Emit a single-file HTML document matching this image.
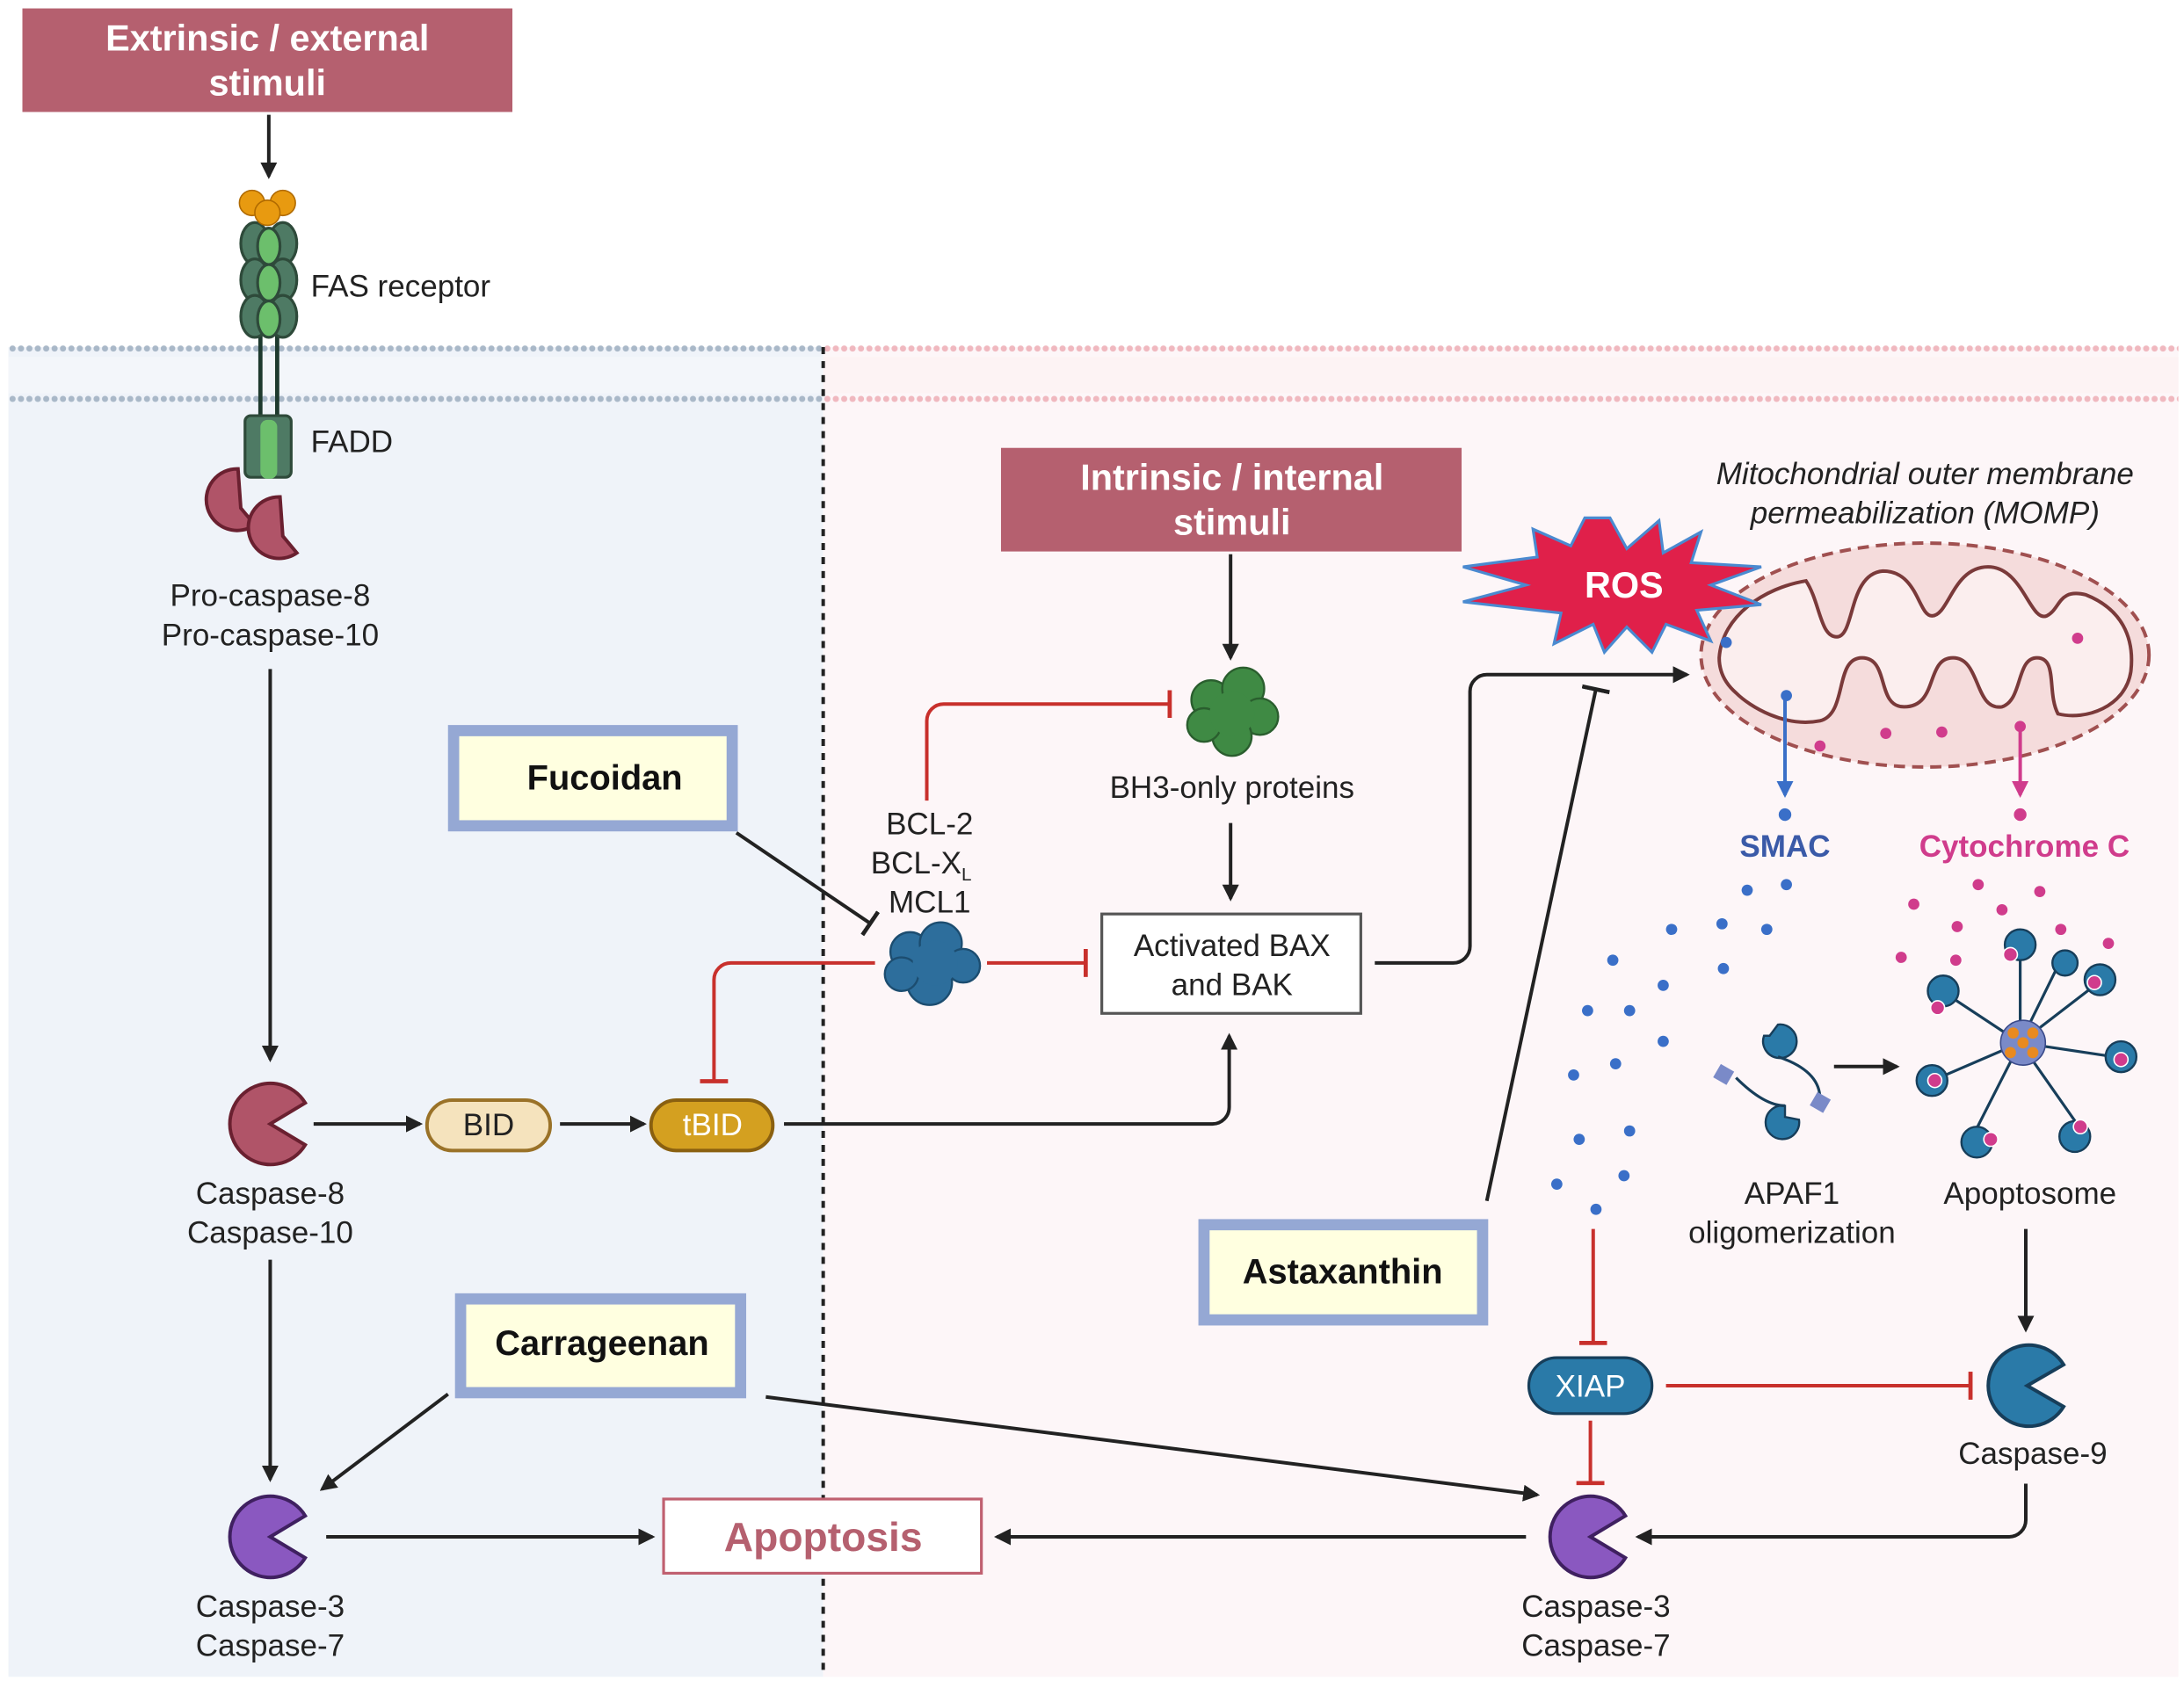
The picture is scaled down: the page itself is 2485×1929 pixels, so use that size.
<!DOCTYPE html>
<html><head><meta charset="utf-8"><style>
html,body{margin:0;padding:0;background:#fff;}
svg{display:block;}
text{font-family:"Liberation Sans",sans-serif;}
</style></head><body>
<svg width="2485" height="1929" viewBox="0 0 1560 1211" preserveAspectRatio="none" xmlns="http://www.w3.org/2000/svg">
<defs>
<marker id="ab2" markerWidth="12" markerHeight="12" refX="10" refY="6" orient="auto" markerUnits="userSpaceOnUse"><path d="M0,0 L12,6 L0,12 z" fill="#222"/></marker>
<marker id="ablue" markerWidth="12" markerHeight="12" refX="10" refY="6" orient="auto" markerUnits="userSpaceOnUse"><path d="M0,0 L12,6 L0,12 z" fill="#3a6fc8"/></marker>
<marker id="apink" markerWidth="12" markerHeight="12" refX="10" refY="6" orient="auto" markerUnits="userSpaceOnUse"><path d="M0,0 L12,6 L0,12 z" fill="#d03c8c"/></marker>
<marker id="tr" markerWidth="4" markerHeight="20" refX="2" refY="10" orient="auto" markerUnits="userSpaceOnUse"><rect x="0" y="0" width="3" height="20" fill="#c8302c"/></marker>
<marker id="tk" markerWidth="4" markerHeight="20" refX="2" refY="10" orient="auto" markerUnits="userSpaceOnUse"><rect x="0" y="0" width="3" height="20" fill="#222"/></marker>
<pattern id="dotb" width="6" height="6" patternUnits="userSpaceOnUse"><circle cx="3" cy="3" r="2.2" fill="#a9b8c8"/></pattern>
<pattern id="dotp" width="6" height="6" patternUnits="userSpaceOnUse"><circle cx="3" cy="3" r="2.2" fill="#f0b8bf"/></pattern>
</defs>
<rect x="6" y="248" width="582" height="950" fill="#eff3f9"/>
<rect x="588" y="248" width="968" height="950" fill="#fdf6f8"/>
<rect x="6" y="255" width="582" height="26" fill="#f3f6fa"/>
<rect x="6" y="246" width="582" height="6" fill="url(#dotb)"/>
<rect x="6" y="282" width="582" height="6" fill="url(#dotb)"/>
<rect x="588" y="255" width="968" height="26" fill="#fdf3f4"/>
<rect x="588" y="246" width="968" height="6" fill="url(#dotp)"/>
<rect x="588" y="282" width="968" height="6" fill="url(#dotp)"/>
<line x1="588" y1="248" x2="588" y2="1198" stroke="#222" stroke-width="2.5" stroke-dasharray="5,5"/>

<rect x="16" y="6" width="350" height="74" fill="#b5606f"/>
<text x="191" y="36" font-size="26" font-weight="bold" fill="#fff" text-anchor="middle">Extrinsic / external</text>
<text x="191" y="68" font-size="26" font-weight="bold" fill="#fff" text-anchor="middle">stimuli</text>
<line x1="192" y1="82" x2="192" y2="126" stroke="#222" stroke-width="2.5" marker-end="url(#ab2)"/>

<line x1="186" y1="230" x2="186" y2="300" stroke="#1e3a2e" stroke-width="3"/>
<line x1="198" y1="230" x2="198" y2="300" stroke="#1e3a2e" stroke-width="3"/>
<g stroke="#2e4a3a" stroke-width="2">
<ellipse cx="182" cy="174" rx="10" ry="15" fill="#4e7a64"/><ellipse cx="202" cy="174" rx="10" ry="15" fill="#4e7a64"/>
<ellipse cx="182" cy="200" rx="10" ry="15" fill="#4e7a64"/><ellipse cx="202" cy="200" rx="10" ry="15" fill="#4e7a64"/>
<ellipse cx="182" cy="226" rx="10" ry="15" fill="#4e7a64"/><ellipse cx="202" cy="226" rx="10" ry="15" fill="#4e7a64"/>
<ellipse cx="192" cy="176" rx="8" ry="13" fill="#6cbf6c"/><ellipse cx="192" cy="202" rx="8" ry="13" fill="#6cbf6c"/><ellipse cx="192" cy="228" rx="8" ry="13" fill="#6cbf6c"/>
</g>
<circle cx="180" cy="145" r="9" fill="#e89a10" stroke="#b06a00"/><circle cx="202" cy="145" r="9" fill="#e89a10" stroke="#b06a00"/><circle cx="191" cy="152" r="9" fill="#e89a10" stroke="#b06a00"/>
<rect x="175" y="297" width="33" height="44" rx="4" fill="#4e7a64" stroke="#2e4a3a" stroke-width="2"/>
<rect x="186" y="300" width="12" height="42" rx="5" fill="#6cbf6c"/>
<path d="M170,335 a22,22 0 1 0 12,40 l-10,-12 z" fill="#b05468" stroke="#6a2030" stroke-width="2.5"/>
<path d="M200,355 a22,22 0 1 0 12,40 l-10,-12 z" fill="#b05468" stroke="#6a2030" stroke-width="2.5"/>
<text x="222" y="212" font-size="22" fill="#222">FAS receptor</text>
<text x="222" y="323" font-size="22" fill="#222">FADD</text>
<text x="193" y="433" font-size="22" fill="#222" text-anchor="middle">Pro-caspase-8</text>
<text x="193" y="461" font-size="22" fill="#222" text-anchor="middle">Pro-caspase-10</text>
<line x1="193" y1="478" x2="193" y2="757" stroke="#222" stroke-width="2.5" marker-end="url(#ab2)"/>

<path d="M193,803 L218,788 A29,29 0 1 0 218,818 Z" fill="#b05468" stroke="#6a2030" stroke-width="2.5"/>
<text x="193" y="860" font-size="22" fill="#222" text-anchor="middle">Caspase-8</text>
<text x="193" y="888" font-size="22" fill="#222" text-anchor="middle">Caspase-10</text>
<line x1="224" y1="803" x2="300" y2="803" stroke="#222" stroke-width="2.5" marker-end="url(#ab2)"/>
<rect x="305" y="786" width="88" height="36" rx="18" fill="#f5e3bd" stroke="#9a7228" stroke-width="2.5"/>
<text x="349" y="811" font-size="22" fill="#222" text-anchor="middle">BID</text>
<line x1="400" y1="803" x2="460" y2="803" stroke="#222" stroke-width="2.5" marker-end="url(#ab2)"/>
<rect x="465" y="786" width="87" height="36" rx="18" fill="#d4a020" stroke="#8a6010" stroke-width="2.5"/>
<text x="509" y="811" font-size="22" fill="#fff" text-anchor="middle">tBID</text>
<path d="M560,803 H866 a12,12 0 0 0 12,-12 V740" fill="none" stroke="#222" stroke-width="2.5" marker-end="url(#ab2)"/>

<rect x="324" y="522" width="199" height="68" fill="#ffffe0" stroke="#95a8d4" stroke-width="8"/>
<text x="432" y="564" font-size="25" font-weight="bold" fill="#111" text-anchor="middle">Fucoidan</text>
<line x1="526" y1="595" x2="622" y2="660" stroke="#222" stroke-width="2.5" marker-end="url(#tk)"/>

<text x="664" y="596" font-size="22" fill="#222" text-anchor="middle">BCL-2</text>
<text x="658" y="624" font-size="22" fill="#222" text-anchor="middle">BCL-X<tspan font-size="13" dy="5">L</tspan></text>
<text x="664" y="652" font-size="22" fill="#222" text-anchor="middle">MCL1</text>
<g fill="#2d6e9c" stroke="#1c4d70" stroke-width="1.5">
<circle cx="650" cy="680" r="14"/><circle cx="672" cy="674" r="15"/><circle cx="688" cy="690" r="12"/><circle cx="664" cy="702" r="16"/><circle cx="644" cy="696" r="12"/><circle cx="668" cy="688" r="16" stroke="none"/></g>
<path d="M662,572 V515 a12,12 0 0 1 12,-12 H836" fill="none" stroke="#c8302c" stroke-width="2.5" marker-end="url(#tr)"/>
<path d="M625,688 H522 a12,12 0 0 0 -12,12 V773" fill="none" stroke="#c8302c" stroke-width="2.5" marker-end="url(#tr)"/>
<line x1="705" y1="688" x2="776" y2="688" stroke="#c8302c" stroke-width="2.5" marker-end="url(#tr)"/>

<rect x="715" y="320" width="329" height="74" fill="#b5606f"/>
<text x="880" y="350" font-size="26" font-weight="bold" fill="#fff" text-anchor="middle">Intrinsic / internal</text>
<text x="880" y="382" font-size="26" font-weight="bold" fill="#fff" text-anchor="middle">stimuli</text>
<line x1="879" y1="396" x2="879" y2="470" stroke="#222" stroke-width="2.5" marker-end="url(#ab2)"/>
<g fill="#3f8a44" stroke="#2a5e2e" stroke-width="1.5">
<circle cx="865" cy="500" r="14"/><circle cx="888" cy="492" r="15"/><circle cx="900" cy="512" r="13"/><circle cx="880" cy="526" r="14"/><circle cx="860" cy="518" r="12"/><circle cx="880" cy="510" r="16" stroke="none"/></g>
<text x="880" y="570" font-size="22" fill="#222" text-anchor="middle">BH3-only proteins</text>
<line x1="879" y1="588" x2="879" y2="642" stroke="#222" stroke-width="2.5" marker-end="url(#ab2)"/>
<rect x="787" y="653" width="185" height="71" fill="#fff" stroke="#555" stroke-width="2"/>
<text x="880" y="683" font-size="22" fill="#222" text-anchor="middle">Activated BAX</text>
<text x="880" y="711" font-size="22" fill="#222" text-anchor="middle">and BAK</text>
<path d="M982,688 H1038 a12,12 0 0 0 12,-12 V494 a12,12 0 0 1 12,-12 H1205" fill="none" stroke="#222" stroke-width="2.5" marker-end="url(#ab2)"/>

<line x1="1062" y1="858" x2="1140" y2="492" stroke="#222" stroke-width="2.5" marker-end="url(#tk)"/>
<rect x="860" y="875" width="199" height="68" fill="#ffffe0" stroke="#95a8d4" stroke-width="8"/>
<text x="959" y="917" font-size="25" font-weight="bold" fill="#111" text-anchor="middle">Astaxanthin</text>

<text x="1375" y="346" font-size="22" font-style="italic" fill="#222" text-anchor="middle">Mitochondrial outer membrane</text>
<text x="1375" y="374" font-size="22" font-style="italic" fill="#222" text-anchor="middle">permeabilization (MOMP)</text>
<ellipse cx="1375" cy="468" rx="160" ry="80" fill="#f5dcdc" stroke="#a05050" stroke-width="2.5" stroke-dasharray="8,5"/>
<path d="M1228,470 C1230,440 1260,420 1290,415 C1300,430 1300,455 1312,455 C1325,455 1320,410 1345,408 C1370,408 1370,440 1380,440 C1392,440 1395,405 1420,405 C1445,405 1450,445 1462,440 C1472,435 1470,420 1490,425 C1515,435 1525,455 1522,480 C1518,505 1490,515 1470,510 C1462,495 1470,470 1455,470 C1440,470 1445,500 1430,505 C1410,508 1415,470 1395,470 C1375,470 1385,505 1360,505 C1340,505 1350,470 1330,470 C1310,470 1320,510 1300,515 C1275,520 1250,505 1240,495 C1232,488 1228,480 1228,470 Z" fill="#fbeeee" stroke="#7a3a3a" stroke-width="2.5"/>
<circle cx="1233" cy="459" r="4" fill="#3a6fc8"/><circle cx="1276" cy="497" r="4" fill="#3a6fc8"/>
<g fill="#d03c8c"><circle cx="1484" cy="456" r="4"/><circle cx="1300" cy="533" r="4"/><circle cx="1347" cy="524" r="4"/><circle cx="1387" cy="523" r="4"/><circle cx="1443" cy="519" r="4"/></g>
<line x1="1275" y1="500" x2="1275" y2="568" stroke="#3a6fc8" stroke-width="2.5" marker-end="url(#ablue)"/>
<line x1="1443" y1="522" x2="1443" y2="568" stroke="#d03c8c" stroke-width="2.5" marker-end="url(#apink)"/>
<circle cx="1275" cy="582" r="4.5" fill="#3a6fc8"/><circle cx="1443" cy="582" r="4.5" fill="#d03c8c"/>
<text x="1275" y="612" font-size="22" font-weight="bold" fill="#3a5aa8" text-anchor="middle">SMAC</text>
<text x="1446" y="612" font-size="22" font-weight="bold" fill="#d03c8c" text-anchor="middle">Cytochrome C</text>
<g fill="#3a6fc8">
<circle cx="1248" cy="636" r="4"/><circle cx="1276" cy="632" r="4"/><circle cx="1194" cy="664" r="4"/><circle cx="1230" cy="660" r="4"/><circle cx="1262" cy="664" r="4"/>
<circle cx="1152" cy="686" r="4"/><circle cx="1188" cy="704" r="4"/><circle cx="1231" cy="692" r="4"/><circle cx="1134" cy="722" r="4"/><circle cx="1164" cy="722" r="4"/>
<circle cx="1188" cy="744" r="4"/><circle cx="1124" cy="768" r="4"/><circle cx="1154" cy="760" r="4"/><circle cx="1128" cy="814" r="4"/><circle cx="1164" cy="808" r="4"/>
<circle cx="1112" cy="846" r="4"/><circle cx="1160" cy="840" r="4"/><circle cx="1140" cy="864" r="4"/></g>
<g fill="#d03c8c">
<circle cx="1367" cy="646" r="4"/><circle cx="1413" cy="632" r="4"/><circle cx="1457" cy="637" r="4"/><circle cx="1430" cy="650" r="4"/>
<circle cx="1398" cy="662" r="4"/><circle cx="1472" cy="664" r="4"/><circle cx="1358" cy="684" r="4"/><circle cx="1397" cy="686" r="4"/><circle cx="1506" cy="674" r="4"/></g>

<g fill="#2a7aa8" stroke="#173e5a" stroke-width="1.5">
<path d="M1260,740 a12,12 0 1 0 10,-8 l-6,8 z"/><path d="M1275,790 a12,12 0 1 0 10,10 l-10,-2 z"/>
</g>
<path d="M1240,770 q20,20 35,20 M1270,755 q30,10 30,30" stroke="#173e5a" stroke-width="2" fill="none"/>
<rect x="1226" y="762" width="11" height="11" fill="#7a8ac8" transform="rotate(30 1231 767)"/>
<rect x="1295" y="782" width="11" height="11" fill="#7a8ac8" transform="rotate(30 1300 787)"/>
<line x1="1310" y1="762" x2="1355" y2="762" stroke="#222" stroke-width="2.5" marker-end="url(#ab2)"/>
<text x="1280" y="860" font-size="22" fill="#222" text-anchor="middle">APAF1</text>
<text x="1280" y="888" font-size="22" fill="#222" text-anchor="middle">oligomerization</text>
<g stroke="#173e5a" stroke-width="2" fill="none">
<path d="M1443,745 L1443,680 M1443,745 L1390,710 M1443,745 L1495,705 M1443,745 L1385,770 M1443,745 L1510,755 M1443,745 L1410,810 M1443,745 L1485,805 M1443,745 L1470,690"/></g>
<g fill="#2a7aa8" stroke="#173e5a" stroke-width="1.5">
<circle cx="1443" cy="675" r="11"/><circle cx="1388" cy="708" r="11"/><circle cx="1500" cy="700" r="11"/><circle cx="1380" cy="772" r="11"/>
<circle cx="1515" cy="755" r="11"/><circle cx="1412" cy="816" r="11"/><circle cx="1482" cy="812" r="11"/><circle cx="1475" cy="688" r="9"/></g>
<g fill="#d03c8c" stroke="#fff" stroke-width="1"><circle cx="1436" cy="682" r="5"/><circle cx="1384" cy="720" r="5"/><circle cx="1496" cy="702" r="5"/><circle cx="1382" cy="772" r="5"/><circle cx="1515" cy="757" r="5"/><circle cx="1422" cy="814" r="5"/><circle cx="1486" cy="805" r="5"/></g>
<circle cx="1445" cy="745" r="16" fill="#7a8ac8" stroke="#3a4a8a"/>
<g fill="#e88a20"><circle cx="1438" cy="738" r="4"/><circle cx="1452" cy="738" r="4"/><circle cx="1436" cy="752" r="4"/><circle cx="1452" cy="752" r="4"/><circle cx="1445" cy="745" r="4"/></g>
<text x="1450" y="860" font-size="22" fill="#222" text-anchor="middle">Apoptosome</text>
<line x1="1447" y1="878" x2="1447" y2="950" stroke="#222" stroke-width="2.5" marker-end="url(#ab2)"/>
<path d="M1448,990 L1474,975 A29,29 0 1 0 1474,1005 Z" fill="#2a7aa8" stroke="#173e5a" stroke-width="2.5"/>
<text x="1452" y="1046" font-size="22" fill="#222" text-anchor="middle">Caspase-9</text>

<line x1="1138" y1="878" x2="1138" y2="960" stroke="#c8302c" stroke-width="2.5" marker-end="url(#tr)"/>
<rect x="1092" y="970" width="88" height="40" rx="20" fill="#2a7aa8" stroke="#173e5a" stroke-width="2"/>
<text x="1136" y="998" font-size="22" fill="#fff" text-anchor="middle">XIAP</text>
<line x1="1190" y1="990" x2="1408" y2="990" stroke="#c8302c" stroke-width="2.5" marker-end="url(#tr)"/>
<line x1="1136" y1="1015" x2="1136" y2="1060" stroke="#c8302c" stroke-width="2.5" marker-end="url(#tr)"/>
<path d="M1136,1098 L1161,1083 A29,29 0 1 0 1161,1113 Z" fill="#8a58c0" stroke="#3f2060" stroke-width="2.5"/>
<text x="1140" y="1155" font-size="22" fill="#222" text-anchor="middle">Caspase-3</text>
<text x="1140" y="1183" font-size="22" fill="#222" text-anchor="middle">Caspase-7</text>
<path d="M1447,1060 V1086 a12,12 0 0 1 -12,12 H1170" fill="none" stroke="#222" stroke-width="2.5" marker-end="url(#ab2)"/>
<line x1="1090" y1="1098" x2="712" y2="1098" stroke="#222" stroke-width="2.5" marker-end="url(#ab2)"/>

<rect x="474" y="1071" width="227" height="53" fill="#fff" stroke="#c06070" stroke-width="2"/>
<text x="588" y="1108" font-size="29" font-weight="bold" fill="#b5606f" text-anchor="middle">Apoptosis</text>

<line x1="193" y1="900" x2="193" y2="1057" stroke="#222" stroke-width="2.5" marker-end="url(#ab2)"/>
<path d="M193,1098 L218,1083 A29,29 0 1 0 218,1113 Z" fill="#8a58c0" stroke="#3f2060" stroke-width="2.5"/>
<text x="193" y="1155" font-size="22" fill="#222" text-anchor="middle">Caspase-3</text>
<text x="193" y="1183" font-size="22" fill="#222" text-anchor="middle">Caspase-7</text>
<line x1="233" y1="1098" x2="466" y2="1098" stroke="#222" stroke-width="2.5" marker-end="url(#ab2)"/>

<rect x="329" y="928" width="200" height="67" fill="#ffffe0" stroke="#95a8d4" stroke-width="8"/>
<text x="430" y="968" font-size="25" font-weight="bold" fill="#111" text-anchor="middle">Carrageenan</text>
<line x1="320" y1="996" x2="230" y2="1064" stroke="#222" stroke-width="2.5" marker-end="url(#ab2)"/>
<line x1="547" y1="998" x2="1098" y2="1068" stroke="#222" stroke-width="2.5" marker-end="url(#ab2)"/>

<polygon points="1150,370 1162,392 1185,372 1188,395 1215,380 1208,402 1258,405 1222,418 1258,432 1212,436 1222,458 1190,446 1180,466 1162,448 1146,466 1138,446 1110,460 1115,438 1045,430 1090,418 1045,405 1098,398 1095,378 1122,390 1132,370" fill="#e0204a" stroke="#4a8ad0" stroke-width="2"/>
<text x="1160" y="427" font-size="26" font-weight="bold" fill="#fff" text-anchor="middle">ROS</text>
</svg>
</body></html>
